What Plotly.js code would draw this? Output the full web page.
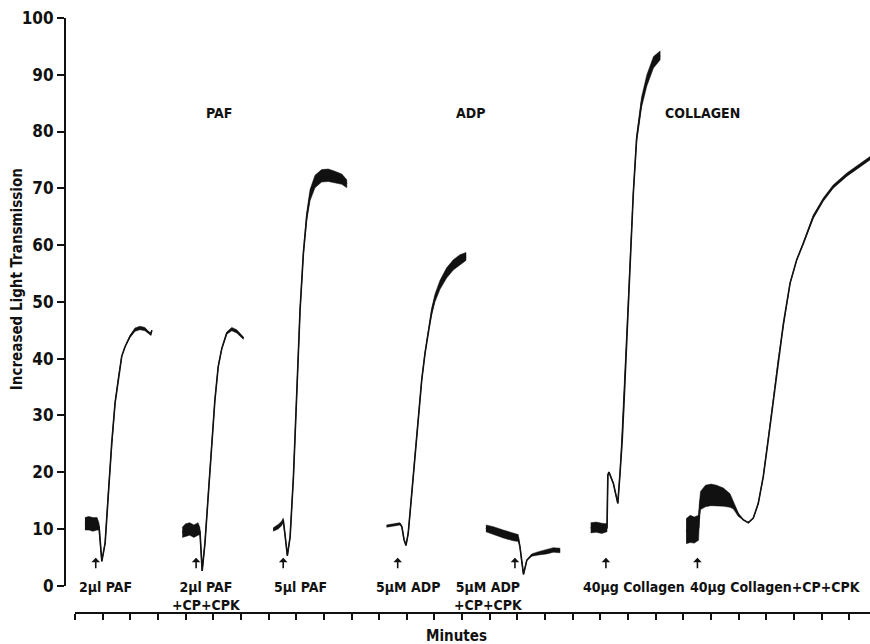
<!DOCTYPE html>
<html>
<head>
<meta charset="utf-8">
<script src="https://cdn.plot.ly/plotly-3.0.1.min.js"></script>
<style>html,body{margin:0;padding:0;background:#fff;}#chart{width:870px;height:644px;}</style>
</head>
<body>
<div id="chart"></div>
<script>
// ---- Data (minutes vs % increased light transmission) ----
// s = half-thickness of the noisy recorder trace
var paf2_x = [0.36, 0.50, 0.65, 0.80, 0.87, 0.92, 0.97, 1.09, 1.20, 1.33, 1.45, 1.57, 1.69, 1.81, 1.99, 2.17, 2.35, 2.53, 2.65, 2.74, 2.78];
var paf2_y = [10.9, 11.0, 10.8, 10.9, 10.4, 7.0, 4.3, 7.5, 16.3, 25.2, 32.2, 36.8, 40.4, 42.1, 43.9, 45.1, 45.4, 45.2, 44.6, 44.3, 45.0];
var paf2_s = [1.1, 1.2, 1.2, 1.1, 0.6, 0, 0, 0, 0, 0, 0, 0, 0, 0, 0.2, 0.3, 0.3, 0.3, 0.2, 0.2, 0];

var paf2cp_x = [3.88, 4.00, 4.15, 4.30, 4.45, 4.52, 4.56, 4.60, 4.70, 4.82, 4.94, 5.06, 5.18, 5.31, 5.49, 5.67, 5.85, 5.97, 6.09];
var paf2cp_y = [9.4, 9.8, 10.0, 9.6, 10.0, 9.6, 6.0, 2.6, 7.5, 16.3, 25.1, 32.7, 38.6, 41.8, 44.5, 45.2, 44.8, 44.2, 43.6];
var paf2cp_s = [0.9, 1.1, 1.1, 1.1, 1.1, 0.6, 0, 0, 0, 0, 0, 0, 0, 0, 0.2, 0.3, 0.3, 0.2, 0.2];

var paf5_x = [7.17, 7.35, 7.48, 7.53, 7.59, 7.68, 7.78, 7.90, 8.02, 8.14, 8.26, 8.38, 8.50, 8.68, 8.92, 9.16, 9.40, 9.65, 9.83];
var paf5_y = [9.9, 10.4, 11.0, 11.6, 9.2, 5.3, 8.6, 19.2, 33.9, 48.6, 58.6, 65.0, 68.8, 71.2, 72.2, 72.3, 72.0, 71.6, 70.8];
var paf5_s = [0.3, 0.4, 0.4, 0.3, 0, 0, 0, 0, 0, 0, 0.3, 0.7, 1.0, 1.1, 1.1, 1.1, 1.0, 0.9, 0.7];

var adp5_x = [11.27, 11.45, 11.65, 11.75, 11.82, 11.90, 11.97, 12.05, 12.18, 12.30, 12.42, 12.54, 12.66, 12.78, 12.90, 13.02, 13.20, 13.44, 13.68, 13.92, 14.14];
var adp5_y = [10.5, 10.6, 10.8, 10.9, 10.4, 8.1, 7.1, 9.2, 16.3, 23.3, 30.4, 36.3, 41.0, 45.1, 48.3, 50.7, 53.0, 55.1, 56.5, 57.4, 58.0];
var adp5_s = [0.2, 0.2, 0.2, 0.2, 0.1, 0, 0, 0, 0, 0, 0, 0, 0, 0.3, 0.6, 0.7, 0.8, 0.9, 0.9, 0.9, 0.7];

var adp5cp_x = [14.86, 15.13, 15.49, 15.85, 16.03, 16.09, 16.16, 16.22, 16.34, 16.52, 16.76, 17.06, 17.30, 17.54];
var adp5cp_y = [10.1, 9.7, 9.1, 8.6, 8.4, 6.9, 3.9, 2.0, 4.5, 5.4, 5.7, 6.0, 6.3, 6.2];
var adp5cp_s = [0.6, 0.7, 0.7, 0.7, 0.6, 0, 0, 0, 0, 0.2, 0.3, 0.4, 0.4, 0.4];

var coll40_x = [18.65, 18.85, 19.05, 19.24, 19.27, 19.31, 19.47, 19.63, 19.71, 19.79, 19.87, 19.95, 20.07, 20.19, 20.31, 20.49, 20.68, 20.92, 21.16];
var coll40_y = [10.2, 10.3, 10.1, 10.2, 19.5, 20.0, 18.0, 14.5, 19.8, 25.7, 34.0, 43.5, 56.3, 69.1, 78.7, 85.2, 89.0, 92.2, 93.4];
var coll40_s = [0.9, 0.9, 0.9, 0.7, 0, 0, 0, 0, 0, 0, 0, 0, 0, 0, 0.5, 0.9, 1.0, 1.0, 0.8];

var coll40cp_x = [22.10, 22.25, 22.40, 22.55, 22.58, 22.62, 22.80, 23.00, 23.20, 23.45, 23.69, 23.81, 23.99, 24.17, 24.35, 24.53, 24.71, 24.89, 25.07, 25.25, 25.43, 25.62, 25.86, 26.10, 26.34, 26.70, 27.06, 27.42, 27.91, 28.39, 28.75];
var coll40cp_y = [9.6, 10.0, 9.8, 10.2, 13.0, 15.0, 15.8, 16.0, 15.9, 15.6, 15.0, 14.2, 12.5, 11.6, 11.1, 11.9, 14.5, 19.2, 25.7, 32.7, 39.8, 46.2, 53.3, 57.4, 60.3, 65.0, 68.0, 70.3, 72.4, 74.1, 75.3];
var coll40cp_s = [2.2, 2.4, 2.3, 2.2, 1.5, 1.6, 1.9, 1.9, 1.8, 1.6, 1.2, 0.7, 0.3, 0, 0, 0, 0, 0, 0, 0, 0, 0, 0, 0, 0.2, 0.3, 0.3, 0.3, 0.3, 0.3, 0.3];

// Labels
var group_labels = ['PAF', 'ADP', 'COLLAGEN'];
var group_x = [5.21, 14.29, 22.71];
var group_y = 83.3;

var cond_labels = ['2µl PAF', '2µl PAF<br>+CP+CPK', '5µl PAF', '5µM ADP', '5µM ADP<br>+CP+CPK', '40µg Collagen', '40µg Collagen+CP+CPK'];
var cond_x = [1.12, 4.77, 8.14, 12.04, 14.97, 20.22, 25.32];
var cond_y = 1.6;

var arrow_x = [0.75, 4.38, 7.53, 11.67, 15.91, 19.20, 22.51];
var arrow_y = 4.9;

var y_ticks = [0, 10, 20, 30, 40, 50, 60, 70, 80, 90, 100];

// ---- Build traces ----
var INK = '#111111';
var FONT = '"Liberation Sans Narrow", "Arial Narrow", "DejaVu Sans Condensed", "Liberation Sans", sans-serif';
var series = [
  [paf2_x, paf2_y, paf2_s],
  [paf2cp_x, paf2cp_y, paf2cp_s],
  [paf5_x, paf5_y, paf5_s],
  [adp5_x, adp5_y, adp5_s],
  [adp5cp_x, adp5cp_y, adp5cp_s],
  [coll40_x, coll40_y, coll40_s],
  [coll40cp_x, coll40cp_y, coll40cp_s]
];
var traces = [];
series.forEach(function (s) {
  var xs = s[0], ys = s[1], ss = s[2];
  var up = ys.map(function (v, i) { return v + ss[i]; });
  var lo = ys.map(function (v, i) { return v - ss[i]; });
  traces.push({
    x: xs.concat(xs.slice().reverse()),
    y: up.concat(lo.slice().reverse()),
    type: 'scatter', mode: 'lines', fill: 'toself',
    fillcolor: INK, line: {width: 0.5, color: INK},
    hoverinfo: 'skip', showlegend: false
  });
  traces.push({
    x: xs, y: ys, type: 'scatter', mode: 'lines',
    line: {width: 1.6, color: INK},
    showlegend: false
  });
});

var annotations = [];
group_labels.forEach(function (t, i) {
  annotations.push({x: group_x[i], y: group_y, xref: 'x', yref: 'y', text: t, showarrow: false,
    font: {family: FONT, size: 14, color: INK, weight: 700}});
});
cond_labels.forEach(function (t, i) {
  annotations.push({x: cond_x[i], y: cond_y, xref: 'x', yref: 'y', text: t, showarrow: false,
    yanchor: 'top', xanchor: 'center',
    font: {family: FONT, size: 14, color: INK, weight: 700}});
});
arrow_x.forEach(function (ax) {
  annotations.push({x: ax, y: arrow_y, xref: 'x', yref: 'y', text: '', showarrow: true,
    ax: 0, ay: 12, arrowhead: 1, arrowsize: 0.9, arrowwidth: 1.6, arrowcolor: INK});
});
annotations.push({x: -0.0596, y: 54, xref: 'paper', yref: 'y', text: 'Increased Light Transmission',
  textangle: -90, showarrow: false, xanchor: 'center', yanchor: 'middle',
  font: {family: FONT, size: 15, color: INK, weight: 700}});
annotations.push({x: 13.8, y: -0.0387, xref: 'x', yref: 'paper', text: 'Minutes',
  showarrow: false, xanchor: 'center', yanchor: 'middle',
  font: {family: FONT, size: 15, color: INK, weight: 700}});

var layout = {
  width: 870, height: 644,
  margin: {l: 65, r: 0, t: 18, b: 31, pad: 0},
  paper_bgcolor: '#ffffff', plot_bgcolor: '#ffffff',
  showlegend: false,
  xaxis: {
    domain: [0.0124, 1], range: [0, 28.75], anchor: 'free', position: 0,
    showline: true, linewidth: 2, linecolor: INK,
    ticks: 'outside', ticklen: 6, tickwidth: 2, tickcolor: INK,
    tick0: 0, dtick: 1, showticklabels: false,
    showgrid: false, zeroline: false
  },
  yaxis: {
    domain: [0.0459, 1], range: [0, 100], anchor: 'free', position: 0,
    showline: true, linewidth: 2, linecolor: INK,
    ticks: 'outside', ticklen: 7, tickwidth: 2, tickcolor: INK,
    tickmode: 'array', tickvals: y_ticks, ticktext: y_ticks.map(String),
    tickfont: {family: FONT, size: 17, color: INK, weight: 700},
    showgrid: false, zeroline: false
  },
  annotations: annotations
};

Plotly.newPlot('chart', traces, layout, {staticPlot: true, displayModeBar: false});
</script>
</body>
</html>
